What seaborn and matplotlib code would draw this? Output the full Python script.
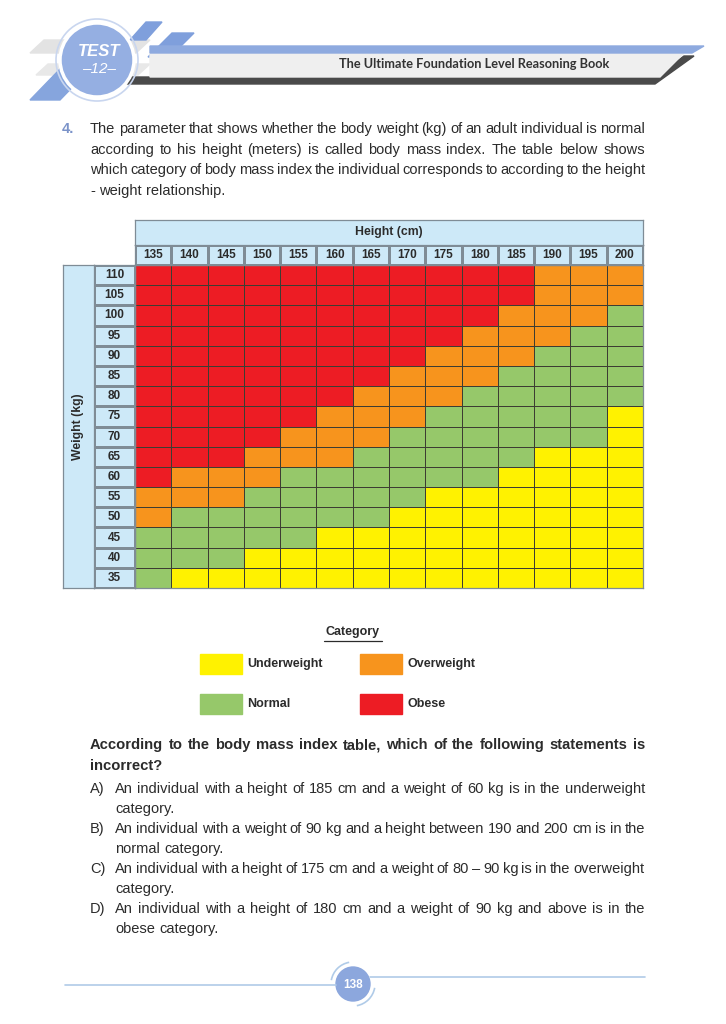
import matplotlib
matplotlib.use("Agg")
import matplotlib.pyplot as plt
from matplotlib.colors import ListedColormap
from matplotlib.patches import Polygon, Circle, Rectangle, Arc
import seaborn as sns
import numpy as np
import pandas as pd

heights = [135, 140, 145, 150, 155, 160, 165, 170, 175, 180, 185, 190, 195, 200]
weights = [110, 105, 100, 95, 90, 85, 80, 75, 70, 65, 60, 55, 50, 45, 40, 35]
# 0 = underweight, 1 = normal, 2 = overweight, 3 = obese (one string per weight row)
bmi_rows = [
    "33333333333222",
    "33333333333222",
    "33333333332221",
    "33333333322211",
    "33333333222111",
    "33333332221111",
    "33333322211111",
    "33333222111110",
    "33332221111110",
    "33322211111000",
    "32221111110000",
    "22211111000000",
    "21111110000000",
    "11111000000000",
    "11100000000000",
    "10000000000000",
]
categories = ["Underweight", "Normal", "Overweight", "Obese"]
cat_colors = ["#fff200", "#96c86a", "#f7941d", "#ed1c24"]

question = [
    "The parameter that shows whether the body weight (kg) of an adult individual is normal",
    "according to his height (meters) is called body mass index. The table below shows",
    "which category of body mass index the individual corresponds to according to the height",
    "- weight relationship.",
]
prompt = [
    "According to the body mass index table, which of the following statements is",
    "incorrect?",
]
options = [
    ("A)", ["An individual with a height of 185 cm and a weight of 60 kg is in the underweight", "category."]),
    ("B)", ["An individual with a weight of 90 kg and a height between 190 and 200 cm is in the", "normal category."]),
    ("C)", ["An individual with a height of 175 cm and a weight of 80 \u2013 90 kg is in the overweight", "category."]),
    ("D)", ["An individual with a height of 180 cm and a weight of 90 kg and above is in the", "obese category."]),
]

grid = pd.DataFrame([[int(c) for c in r] for r in bmi_rows], index=weights, columns=heights)

W, H = 726, 1024
HEAD = "#cde9f8"
EDGE = "#7f8c96"
TXT = "#2b2b2b"
BODY = 10.5

sns.set_theme(style="white")
plt.rcParams["font.family"] = ["Liberation Sans", "DejaVu Sans"]

fig = plt.figure(figsize=(W / 100, H / 100), dpi=100)
fig.patch.set_facecolor("white")


def box(x0, y0, x1, y1):
    return [x0 / W, 1 - y1 / H, (x1 - x0) / W, (y1 - y0) / H]


# page layer in pixel coordinates
page = fig.add_axes([0, 0, 1, 1], zorder=0)
page.set_xlim(0, W)
page.set_ylim(H, 0)
page.axis("off")
renderer = fig.canvas.get_renderer()


def justify(words_line, x0, x1, y, size, weight="normal", full=True):
    words = words_line.split(" ")
    arts = [page.text(x0, y, w, fontsize=size, fontweight=weight, color=TXT, va="center") for w in words]
    widths = [a.get_window_extent(renderer).width for a in arts]
    t1 = page.text(0, 0, "a a", fontsize=size, fontweight=weight)
    t2 = page.text(0, 0, "aa", fontsize=size, fontweight=weight)
    space = t1.get_window_extent(renderer).width - t2.get_window_extent(renderer).width
    t1.remove()
    t2.remove()
    gap = (x1 - x0 - sum(widths)) / max(len(words) - 1, 1) if full else space
    x = x0
    for a, w in zip(arts, widths):
        a.set_x(x)
        x += w + gap


# ---- header banner --------------------------------------------------------
page.add_patch(Polygon([(30, 53), (44, 40), (150, 40), (136, 53)], color="#e3e3e3", zorder=1))
page.add_patch(Polygon([(36, 75), (48, 64), (150, 64), (138, 75)], color="#e8e8e8", zorder=1))
page.add_patch(Polygon([(30, 100), (90, 38), (120, 38), (60, 100)], color="#86a5dd", zorder=2))
page.add_patch(Polygon([(130, 40), (146, 22), (162, 22), (146, 40)], color="#7f9fdc", zorder=2))
page.add_patch(Polygon([(148, 57), (172, 33), (194, 33), (170, 57)], color="#7f9fdc", zorder=2))
page.add_patch(Polygon([(100, 77), (655, 77), (684, 56), (694, 56), (655, 84), (100, 84)], color="#4a4a4a", zorder=2))
page.add_patch(Polygon([(150, 53), (684, 53), (660, 77), (150, 77)], color="#efefef", zorder=3))
page.add_patch(Polygon([(150, 46), (704, 46), (692, 53), (150, 53)], color="#8eaadf", zorder=3))
page.add_patch(Circle((97, 60), 41, facecolor="none", edgecolor="#c9d6ef", lw=1.2, zorder=4))
page.add_patch(Circle((97, 60), 37, facecolor="#95afe2", edgecolor="white", lw=2.5, zorder=4))
page.text(99, 51, "TEST", fontsize=12, fontweight="bold", style="italic", color="white",
          ha="center", va="center", zorder=5)
page.text(99, 69, "\u201312\u2013", fontsize=11, style="italic", color="white",
          ha="center", va="center", zorder=5)
page.text(474, 64, "The Ultimate Foundation Level Reasoning Book", fontsize=9.2, fontweight="bold",
          family=["Lato", "DejaVu Sans"], color="#333333", ha="center", va="center", zorder=5)

# ---- question text -----------------------------------------------------------
page.text(62, 129, "4.", fontsize=BODY, color="#7b93c9", va="center", fontweight="bold")
for i, line in enumerate(question):
    justify(line, 90, 645, 129 + i * 20.7, BODY, full=i < len(question) - 1)

# ---- table -----------------------------------------------------------
ax = fig.add_axes(box(135, 265, 643, 588))
sns.heatmap(grid, cmap=ListedColormap(cat_colors), vmin=-0.5, vmax=3.5, cbar=False,
            linewidths=0.7, linecolor="#3d3d33", ax=ax)
ax.set_xticks([])
ax.set_yticks([])
ax.set_xlabel("")
ax.set_ylabel("")

hx = fig.add_axes(box(135, 245, 643, 265))
sns.heatmap(np.zeros((1, len(heights))), annot=np.array([heights]), fmt="d",
            cmap=ListedColormap([HEAD]), cbar=False, linewidths=0.8, linecolor=EDGE,
            annot_kws={"fontsize": 8.5, "fontweight": "bold", "color": TXT}, ax=hx)
hx.set_xticks([])
hx.set_yticks([])

wy = fig.add_axes(box(94, 265, 135, 588))
sns.heatmap(np.zeros((len(weights), 1)), annot=np.array(weights).reshape(-1, 1), fmt="d",
            cmap=ListedColormap([HEAD]), cbar=False, linewidths=0.8, linecolor=EDGE,
            annot_kws={"fontsize": 8.5, "fontweight": "bold", "color": TXT}, ax=wy)
wy.set_xticks([])
wy.set_yticks([])

for b, label, rot in [((135, 220, 643, 245), "Height (cm)", 0), ((63, 265, 94, 588), "Weight (kg)", 90)]:
    a = fig.add_axes(box(*b))
    a.set_facecolor(HEAD)
    a.set_xticks([])
    a.set_yticks([])
    for s in a.spines.values():
        s.set_color(EDGE)
        s.set_linewidth(0.9)
    a.text(0.5, 0.5, label, transform=a.transAxes, rotation=rot, fontsize=8.8,
           fontweight="bold", color=TXT, ha="center", va="center")
for a in (ax, hx, wy):
    for s in a.spines.values():
        s.set_visible(True)
        s.set_color(EDGE)
        s.set_linewidth(0.9)

# ---- legend -----------------------------------------------------------
page.text(353, 632, "Category", fontsize=9, fontweight="bold", color=TXT, ha="center", va="center")
page.plot([324, 382], [641, 641], color=TXT, lw=0.9)
for i, (name, col) in enumerate(zip(categories, cat_colors)):
    x0 = 200 + (i // 2) * 160
    y0 = 654 + (i % 2) * 40
    page.add_patch(Rectangle((x0, y0), 42, 20, color=col))
    page.text(x0 + 47, y0 + 10, name, fontsize=9, fontweight="bold", color=TXT, va="center")

# ---- statements -----------------------------------------------------------
for i, line in enumerate(prompt):
    justify(line, 90, 645, 745 + i * 21, 10.6, weight="bold", full=i < len(prompt) - 1)
for k, (letter, lines) in enumerate(options):
    y = 789 + k * 40
    page.text(90, y, letter, fontsize=BODY, color=TXT, va="center")
    justify(lines[0], 115, 645, y, BODY)
    justify(lines[1], 115, 645, y + 20, BODY, full=False)

# ---- footer -----------------------------------------------------------
page.plot([65, 336], [985, 985], color="#b0cbe8", lw=1.2)
page.plot([370, 645], [977, 977], color="#b0cbe8", lw=1.2)
page.add_patch(Arc((353, 984), 44, 44, theta1=10, theta2=80, color="#b0cbe8", lw=1.2))
page.add_patch(Arc((353, 984), 44, 44, theta1=190, theta2=260, color="#b0cbe8", lw=1.2))
page.add_patch(Circle((353, 984), 17, color="#8ca7dd"))
page.text(353, 985, "138", fontsize=8.5, fontweight="bold", color="white", ha="center", va="center")

fig.savefig("out.png", dpi=100, facecolor="white")
